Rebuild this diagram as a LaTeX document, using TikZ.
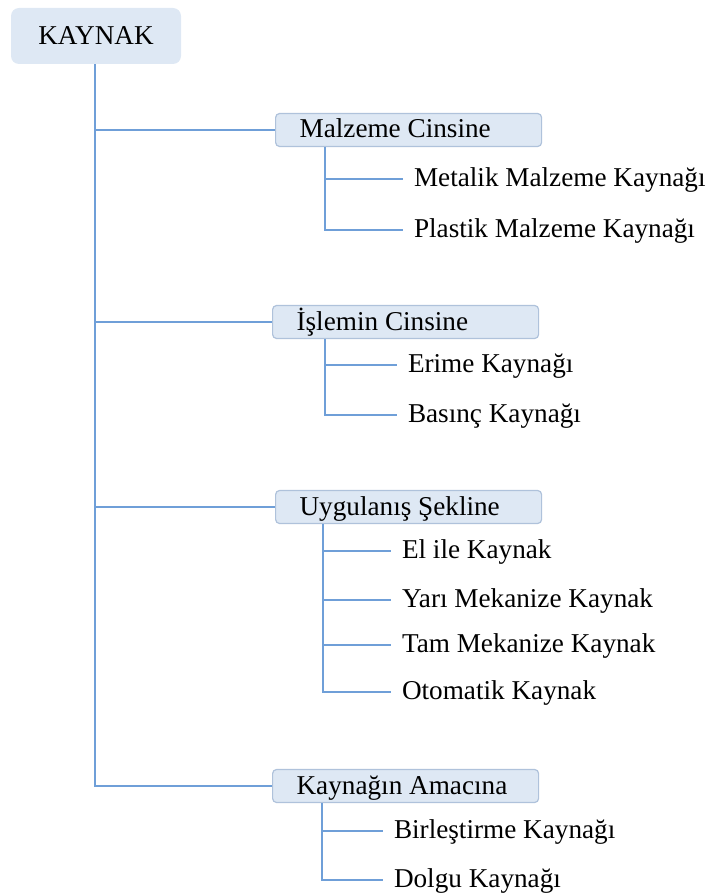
\documentclass[tikz,border=0pt]{standalone}
\usepackage{fontspec}
\setmainfont{Liberation Serif}
\usepackage{tikz}

\definecolor{linkblue}{HTML}{6F9FD8}
\definecolor{boxfill}{HTML}{DEE8F4}
\definecolor{boxline}{HTML}{AFC2DB}

\tikzset{
  root/.style={fill=boxfill, rounded corners=4pt, minimum width=85pt, minimum height=28pt,
    text height=0.95em, text depth=0.1em},
  cat/.style={anchor=west, draw=boxline, fill=boxfill, rounded corners=2pt, line width=0.6pt,
    text width=109pt, inner xsep=12pt, inner ysep=0pt, minimum height=16.5pt, align=flush left,
    text height=0.9em, text depth=0.1em},
  leaf/.style={anchor=west, inner xsep=0pt, outer xsep=5.5pt, text height=0.85em, text depth=0.1em},
  link/.style={draw=linkblue, line width=0.8pt}
}

\begin{document}
\begin{tikzpicture}[x=0.5pt,y=-0.5pt,font=\fontsize{13.6}{16}\selectfont]
  \useasboundingbox (0,0) rectangle (707,893);
  \node [root] (kaynak) at (96,36) {KAYNAK};
  % first level
  \node [cat] (malzeme) at (275,130) {Malzeme Cinsine};
  \node [cat] (islem) at (272,322) {İşlemin Cinsine};
  \node [cat] (uygulanis) at (275,507) {Uygulanış Şekline};
  \node [cat] (amac) at (272,786) {Kaynağın Amacına};
  % second level
  \node [leaf] (metalik) at (403,179) {Metalik Malzeme Kaynağı};
  \node [leaf] (plastik) at (403,230) {Plastik Malzeme Kaynağı};
  \node [leaf] (erime) at (397,365) {Erime Kaynağı};
  \node [leaf] (basinc) at (397,415) {Basınç Kaynağı};
  \node [leaf] (elile) at (391,551) {El ile Kaynak};
  \node [leaf] (yari) at (391,600) {Yarı Mekanize Kaynak};
  \node [leaf] (tam) at (391,645) {Tam Mekanize Kaynak};
  \node [leaf] (oto) at (391,692) {Otomatik Kaynak};
  \node [leaf] (birles) at (383,831) {Birleştirme Kaynağı};
  \node [leaf] (dolgu) at (383,880) {Dolgu Kaynağı};
  % trunk
  \draw [link] ([xshift=-0.5pt]kaynak.south) coordinate (t) |- (amac.west);
  \draw [link] (t |- malzeme.west) -- (malzeme.west);
  \draw [link] (t |- islem.west) -- (islem.west);
  \draw [link] (t |- uygulanis.west) -- (uygulanis.west);
  % stems
  \draw [link] ([xshift=25pt]malzeme.south west) coordinate (s1) |- (plastik.west);
  \draw [link] (s1 |- metalik) -- (metalik.west);
  \draw [link] ([xshift=26.5pt]islem.south west) coordinate (s2) |- (basinc.west);
  \draw [link] (s2 |- erime) -- (erime.west);
  \draw [link] ([xshift=24pt]uygulanis.south west) coordinate (s3) |- (oto.west);
  \draw [link] (s3 |- elile) -- (elile.west);
  \draw [link] (s3 |- yari) -- (yari.west);
  \draw [link] (s3 |- tam) -- (tam.west);
  \draw [link] ([xshift=25pt]amac.south west) coordinate (s4) |- (dolgu.west);
  \draw [link] (s4 |- birles) -- (birles.west);
\end{tikzpicture}
\end{document}
